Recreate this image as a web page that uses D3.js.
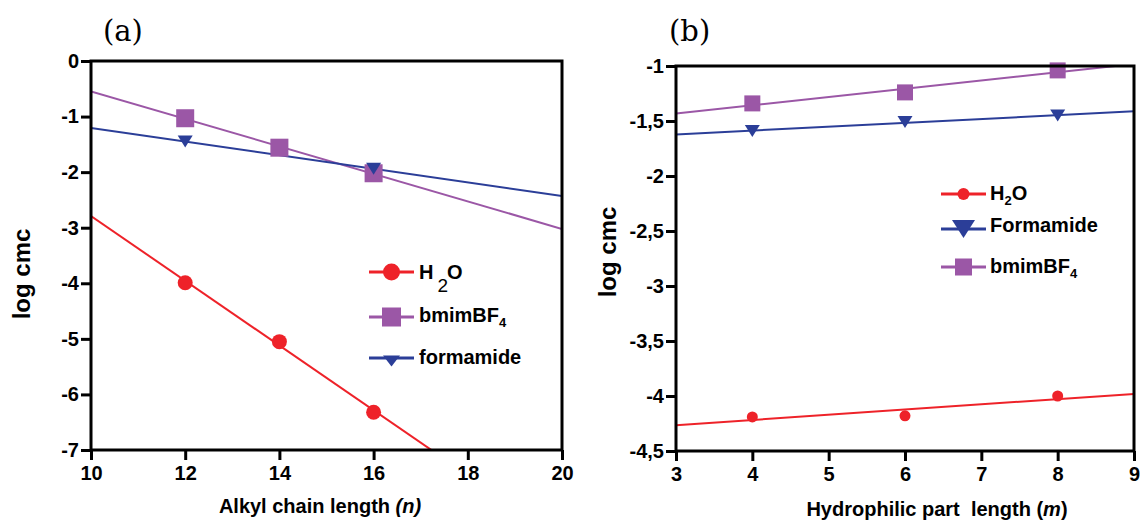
<!DOCTYPE html>
<html>
<head>
<meta charset="utf-8">
<script src="https://cdn.jsdelivr.net/npm/d3@7"></script>
<style>
    html, body { margin: 0; padding: 0; background: #ffffff; }
    svg { display: block; font-family: "Liberation Sans", Arial, sans-serif; }
</style>
</head>
<body>
<div class="content"></div>
<script>
// panel (a): log cmc vs alkyl chain length
var chainLength = [12, 14, 16];
var h2oA = [-3.99, -5.05, -6.32];
var bmimA = [-1.03, -1.56, -2.02];
var formamideA = [-1.45, null, -1.94];
var ticksXA = [10, 12, 14, 16, 18, 20];
var ticksYA = [0, -1, -2, -3, -4, -5, -6, -7];

// panel (b): log cmc vs hydrophilic part length
var headLength = [4, 6, 8];
var h2oB = [-4.19, -4.18, -4.0];
var formamideB = [-1.59, -1.51, -1.45];
var bmimB = [-1.34, -1.24, -1.04];
var ticksXB = [3, 4, 5, 6, 7, 8, 9];
var ticksYB = [-1, -1.5, -2, -2.5, -3, -3.5, -4, -4.5];

(function (window) {
    'use strict';
    var svg, colors = {
            red: "#ee2229",
            purple: "#9b57a6",
            blue: "#2b3e98"
        },
        fontSize = 20;

    svg = d3.select(".content").append("svg")
        .attr("width", 1140)
        .attr("height", 521);

    function fit(xs, ys) {
        var i, n = 0, sx = 0, sy = 0, sxx = 0, sxy = 0, slope;
        for (i = 0; i < xs.length; i += 1) {
            if (ys[i] !== null) {
                n += 1;
                sx += xs[i];
                sy += ys[i];
                sxx += xs[i] * xs[i];
                sxy += xs[i] * ys[i];
            }
        }
        slope = (n * sxy - sx * sy) / (n * sxx - sx * sx);
        return {slope: slope, icept: (sy - slope * sx) / n};
    }

    function marker(g, type, x, y, size, color) {
        var w, h;
        if (type === "circle") {
            g.append("circle").attr("cx", x).attr("cy", y).attr("r", size / 2).attr("fill", color);
        } else if (type === "square") {
            g.append("rect").attr("x", x - size / 2).attr("y", y - size / 2)
                .attr("width", size).attr("height", size).attr("fill", color);
        } else {
            w = size[0];
            h = size[1];
            g.append("path")
                .attr("d", "M" + (x - w / 2) + "," + (y - h / 2) + "L" + (x + w / 2) + "," + (y - h / 2) + "L" + x + "," + (y + h / 2) + "Z")
                .attr("fill", color);
        }
    }

    function styleAxis(a) {
        a.select(".domain").remove();
        a.selectAll("line").attr("stroke-width", 3);
        a.selectAll("text").attr("font-size", fontSize).attr("font-weight", "bold")
            .attr("font-family", "Liberation Sans, Arial, sans-serif").attr("fill", "#000");
    }

    function drawPanel(opt) {
        var g, x, y, clipId = "clip-" + opt.name, plot;
        x = d3.scaleLinear().domain(opt.xDomain).range([opt.left, opt.right]);
        y = d3.scaleLinear().domain(opt.yDomain).range([opt.bottom, opt.top]);
        g = svg.append("g");

        svg.append("clipPath").attr("id", clipId)
            .append("rect")
            .attr("x", opt.left).attr("y", opt.top)
            .attr("width", opt.right - opt.left).attr("height", opt.bottom - opt.top);

        // axes
        g.append("g")
            .attr("transform", "translate(0," + opt.bottom + ")")
            .call(d3.axisBottom(x).tickValues(opt.xTicks).tickSize(10).tickSizeOuter(0).tickPadding(6)
                .tickFormat(function (d) { return String(d); }))
            .call(styleAxis);
        g.append("g")
            .attr("transform", "translate(" + opt.left + ",0)")
            .call(d3.axisLeft(y).tickValues(opt.yTicks).tickSize(10).tickSizeOuter(0).tickPadding(2)
                .tickFormat(function (d) { return String(d).replace(".", ","); }))
            .call(styleAxis);

        // fitted lines + points
        plot = g.append("g").attr("clip-path", "url(#" + clipId + ")");
        opt.series.forEach(function (s) {
            var f = fit(opt.xs, s.values);
            plot.append("line")
                .attr("x1", x(opt.xDomain[0])).attr("y1", y(f.icept + f.slope * opt.xDomain[0]))
                .attr("x2", x(opt.xDomain[1])).attr("y2", y(f.icept + f.slope * opt.xDomain[1]))
                .attr("stroke", s.color).attr("stroke-width", 2);
        });
        opt.series.forEach(function (s) {
            s.values.forEach(function (v, i) {
                if (v !== null) {
                    marker(g, s.type, x(opt.xs[i]), y(v), s.size, s.color);
                }
            });
        });

        // frame
        g.append("rect")
            .attr("x", opt.left).attr("y", opt.top)
            .attr("width", opt.right - opt.left).attr("height", opt.bottom - opt.top)
            .attr("fill", "none").attr("stroke", "#000").attr("stroke-width", 3);

        // titles
        g.append("text")
            .attr("x", opt.label[0]).attr("y", opt.label[1])
            .attr("font-family", "DejaVu Serif, Liberation Serif, serif")
            .attr("font-size", 29)
            .text(opt.label[2]);

        g.append("text")
            .attr("transform", "translate(" + opt.yTitle[0] + "," + opt.yTitle[1] + ") rotate(-90)")
            .attr("text-anchor", "middle").attr("dy", "0.35em")
            .attr("font-size", 24).attr("font-weight", "bold")
            .text("log cmc");

        opt.xTitle(g.append("text")
            .attr("font-size", fontSize).attr("font-weight", "bold")
            .attr("text-anchor", "middle")
            .style("white-space", "pre"));

        // legend
        opt.legend.forEach(function (l) {
            g.append("line")
                .attr("x1", l.x1).attr("x2", l.x2).attr("y1", l.y).attr("y2", l.y)
                .attr("stroke", l.s.color).attr("stroke-width", 3);
            marker(g, l.s.type, (l.x1 + l.x2) / 2, l.my, l.size, l.s.color);
            l.text(g.append("text")
                .attr("x", l.tx).attr("y", l.ty)
                .attr("font-size", fontSize).attr("font-weight", "bold"));
        });
    }

    function sub(t, main, s, subSize, dy, tail) {
        t.append("tspan").text(main);
        t.append("tspan").attr("font-size", subSize).attr("dy", dy).text(s);
        if (tail) {
            t.append("tspan").attr("dy", -dy).text(tail);
        }
    }

    // panel (a)
    (function () {
        var h2o = {values: h2oA, color: colors.red, type: "circle", size: 15},
            bmim = {values: bmimA, color: colors.purple, type: "square", size: 18},
            form = {values: formamideA, color: colors.blue, type: "triangle", size: [15, 12]};
        drawPanel({
            name: "a",
            xs: chainLength,
            xDomain: [10, 20], yDomain: [-7, 0],
            xTicks: ticksXA, yTicks: ticksYA,
            left: 91, right: 562, top: 61, bottom: 450,
            series: [h2o, bmim, form],
            label: [103, 41, "(a)"],
            yTitle: [22, 274],
            xTitle: function (t) {
                t.attr("x", 320).attr("y", 513);
                t.append("tspan").text("Alkyl chain length ");
                t.append("tspan").attr("font-style", "italic").text("(n)");
            },
            legend: [
                {s: h2o, x1: 369, x2: 414, y: 272, my: 272, size: 17, tx: 419, ty: 279,
                    text: function (t) {
                        t.append("tspan").text("H");
                        t.append("tspan").attr("dx", 4).attr("dy", 13).attr("font-size", 19).attr("font-weight", "normal").text("2");
                        t.append("tspan").attr("dx", -1).attr("dy", -13).text("O");
                    }},
                {s: bmim, x1: 369, x2: 414, y: 317, my: 317, size: 19, tx: 419, ty: 322,
                    text: function (t) { sub(t, "bmimBF", "4", 13, 5); }},
                {s: form, x1: 369, x2: 414, y: 358, my: 361, size: [17, 11], tx: 419, ty: 364,
                    text: function (t) { t.text("formamide"); }}
            ]
        });
    }());

    // panel (b)
    (function () {
        var h2o = {values: h2oB, color: colors.red, type: "circle", size: 11},
            bmim = {values: bmimB, color: colors.purple, type: "square", size: 16},
            form = {values: formamideB, color: colors.blue, type: "triangle", size: [15, 12]};
        drawPanel({
            name: "b",
            xs: headLength,
            xDomain: [3, 9], yDomain: [-4.5, -1],
            xTicks: ticksXB, yTicks: ticksYB,
            left: 676, right: 1134, top: 66, bottom: 451,
            series: [h2o, form, bmim],
            label: [669, 41, "(b)"],
            yTitle: [608, 252],
            xTitle: function (t) {
                t.attr("x", 937).attr("y", 516);
                t.append("tspan").text("Hydrophilic part  length (");
                t.append("tspan").attr("font-style", "italic").text("m");
                t.append("tspan").text(")");
            },
            legend: [
                {s: h2o, x1: 941, x2: 986, y: 194, my: 194, size: 12, tx: 990, ty: 200,
                    text: function (t) { sub(t, "H", "2", 13, 5, "O"); }},
                {s: form, x1: 941, x2: 986, y: 229, my: 229, size: [23, 18], tx: 990, ty: 232,
                    text: function (t) { t.text("Formamide"); }},
                {s: bmim, x1: 941, x2: 986, y: 267, my: 267, size: 17, tx: 990, ty: 273,
                    text: function (t) { sub(t, "bmimBF", "4", 13, 5); }}
            ]
        });
    }());
}(window));
</script>
</body>
</html>
